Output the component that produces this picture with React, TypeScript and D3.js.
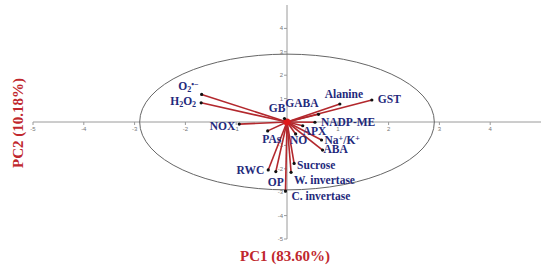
import React from "react";
import * as d3 from "d3";

// loadings (PC1, PC2)
const names = [
  "O2", "H2O2", "NOX", "PAs", "RWC", "OP", "Sucrose", "W. invertase", "C. invertase",
  "ABA", "NaK", "NO", "APX", "NADP-ME", "GABA", "GB", "Alanine", "GST",
];
const pc1 = [-1.68, -1.69, -0.94, -0.38, -0.37, -0.22, 0.14, 0.08, -0.03, 0.7, 0.68, 0.17, 0.31, 0.55, 0.62, -0.05, 1.04, 1.67];
const pc2 = [1.18, 0.82, -0.09, -0.38, -2.05, -2.12, -1.77, -2.15, -2.95, -1.2, -0.77, -0.51, -0.16, -0.01, 0.33, 0.15, 0.77, 0.94];
const xTicks = [-5, -4, -3, -2, -1, 1, 2, 3, 4];
const yTicks = [-5, -4, -3, -2, -1, 1, 2, 3, 4];
const circleRadius = 2.9;

const W = 550;
const H = 274;
const navy = "#1f2a7c";
const red = "#b3282d";

// label placement relative to the point [dx, dy, anchor]
const place: Record<string, [number, number, string]> = {
  O2: [-3, -8, "end"],
  H2O2: [-5, -2, "end"],
  NOX: [-4, 2, "end"],
  PAs: [4, 8, "middle"],
  RWC: [-4, 0, "end"],
  OP: [0, 10, "middle"],
  Sucrose: [3, 2, "start"],
  "W. invertase": [3, 8, "start"],
  "C. invertase": [6, 5, "start"],
  ABA: [1, -1, "start"],
  NaK: [3, 0, "start"],
  NO: [3, 6, "middle"],
  APX: [0, 5, "start"],
  "NADP-ME": [6, 0, "start"],
  GABA: [0, -11, "end"],
  GB: [1, -10, "end"],
  Alanine: [4, -10, "middle"],
  GST: [6, -1, "start"],
};

const sub = (t: string) => (
  <tspan fontSize="0.7em" baselineShift="-25%">{t}</tspan>
);
const sup = (t: string) => (
  <tspan fontSize="0.7em" baselineShift="40%">{t}</tspan>
);

const labelText = (n: string) => {
  if (n === "O2") return <>O{sub("2")}{sup("•−")}</>;
  if (n === "H2O2") return <>H{sub("2")}O{sub("2")}</>;
  if (n === "NaK") return <>Na{sup("+")}/K{sup("+")}</>;
  return n;
};

export default function App() {
  const x = d3.scaleLinear().domain([-5, 5]).range([33, 541]);
  const y = d3.scaleLinear().domain([-5, 5]).range([239, 5]);
  const x0 = x(0);
  const y0 = y(0);

  return (
    <svg width={W} height={H} style={{ position: "absolute", left: 0, top: 0, background: "#fff" }}>
      {/* axes */}
      <g stroke="#9a9a9a" strokeWidth={1}>
        <line x1={x(-5)} x2={x(5)} y1={y0} y2={y0} />
        <line x1={x0} x2={x0} y1={y(5)} y2={y(-5)} />
        {xTicks.map((t) => (
          <line key={"xt" + t} x1={x(t)} x2={x(t)} y1={y0} y2={y0 + 3} />
        ))}
        {yTicks.map((t) => (
          <line key={"yt" + t} x1={x0 - 3} x2={x0} y1={y(t)} y2={y(t)} />
        ))}
      </g>
      <g fill="#777" fontSize={6} fontFamily="Liberation Sans, Arial, sans-serif">
        {xTicks.map((t) => (
          <text key={"xl" + t} x={x(t)} y={y0 + 9} textAnchor="middle">{t}</text>
        ))}
        {yTicks.map((t) => (
          <text key={"yl" + t} x={x0 - 4} y={y(t) + 2} textAnchor="end">{t}</text>
        ))}
      </g>

      {/* correlation circle */}
      <ellipse
        cx={x0}
        cy={y0}
        rx={x(circleRadius) - x0}
        ry={y0 - y(circleRadius)}
        fill="none"
        stroke="#666"
        strokeWidth={1}
      />

      {/* loading vectors */}
      <g stroke={red} strokeWidth={1.6}>
        {names.map((n, i) => (
          <line key={"v" + n} x1={x0} y1={y0} x2={x(pc1[i])} y2={y(pc2[i])} />
        ))}
      </g>
      <circle cx={x0} cy={y0} r={3.5} fill="#e01a1a" />
      {names.map((n, i) => (
        <circle key={"p" + n} cx={x(pc1[i])} cy={y(pc2[i])} r={1.6} fill="#111" />
      ))}

      {/* variable labels */}
      <g fill={navy} fontSize={11.5} fontWeight="bold" fontFamily="Liberation Serif, Times New Roman, serif">
        {names.map((n, i) => {
          const [dx, dy, anchor] = place[n];
          return (
            <text
              key={"l" + n}
              x={x(pc1[i]) + dx}
              y={y(pc2[i]) + dy + 4}
              textAnchor={anchor as any}
            >
              {labelText(n)}
            </text>
          );
        })}
      </g>

      {/* axis titles */}
      <g fill="#c0272d" fontSize={15} fontWeight="bold" fontFamily="Liberation Serif, Times New Roman, serif">
        <text x={285} y={261} textAnchor="middle">PC1 (83.60%)</text>
        <text transform={`translate(23,123) rotate(-90)`} textAnchor="middle">PC2 (10.18%)</text>
      </g>
    </svg>
  );
}
